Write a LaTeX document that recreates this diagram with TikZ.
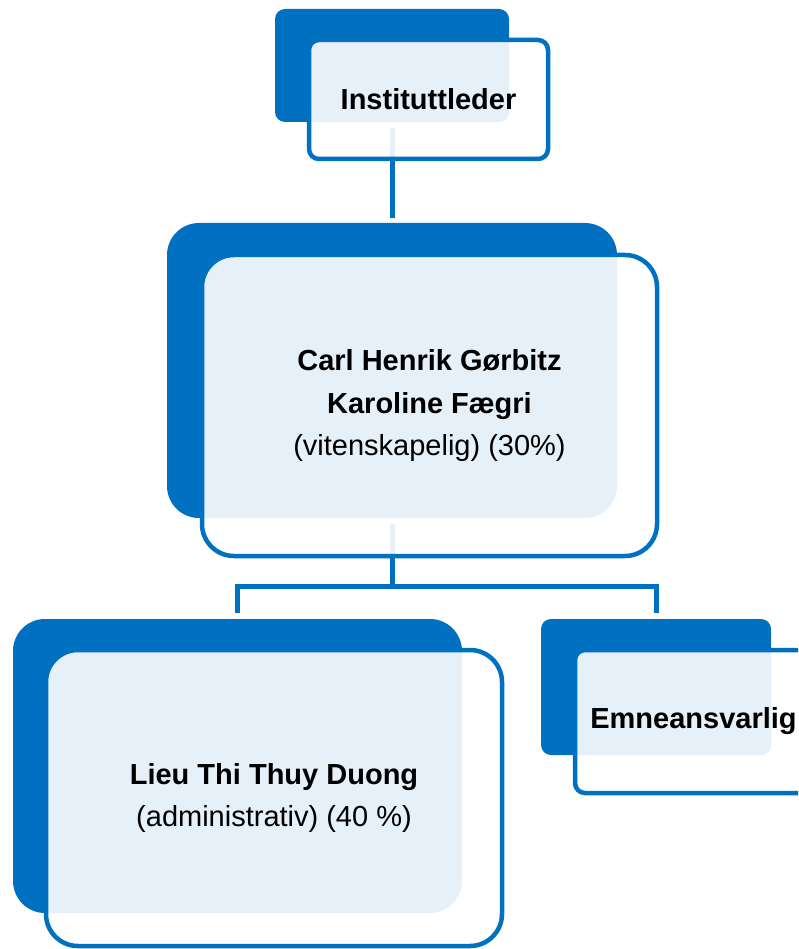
\documentclass[tikz,border=0pt]{standalone}
\usepackage{fontspec}
\setmainfont{Liberation Sans}
\usetikzlibrary{backgrounds}

\begin{document}
\begin{tikzpicture}[x=1pt, y=-1pt,
    backbox/.style={fill=orgblue, inner sep=0pt, outer sep=0pt},
    frontbox/.style={draw=orgblue, line width=4.5pt, fill=white, fill opacity=0.9,
      text opacity=1, inner sep=0pt, outer sep=0pt, align=center,
      font=\fontsize{29}{42.5}\selectfont},
    link/.style={draw=orgblue, line width=5pt}]
			% Define colors
			\definecolor{orgblue}{RGB}{0,112,192}
			
			% Fix the page size
			\useasboundingbox (0,0) rectangle (798,949);
			\clip (0,0) rectangle (798,949);
			
			% Draw the top unit
			\node[backbox, minimum width=234pt, minimum height=113pt, rounded corners=10pt] (lederBack) at (392,65.5) {};
			\node[frontbox, minimum width=239pt, minimum height=119pt, rounded corners=10pt] (lederFront) at (428.5,99.5) {\textbf{Instituttleder}};
			
			% Draw the middle unit
			\node[backbox, minimum width=450pt, minimum height=295pt, rounded corners=32pt] (nestBack) at (392,370.5) {};
			\node[frontbox, minimum width=455pt, minimum height=301pt, rounded corners=32pt] (nestFront) at (429.5,405.5)
			  {\textbf{Carl Henrik Gørbitz}\\\textbf{Karoline Fægri}\\(vitenskapelig) (30\%)};
			
			% Draw the bottom left unit
			\node[backbox, minimum width=449pt, minimum height=294pt, rounded corners=32pt] (adminBack) at (237.5,766) {};
			\node[frontbox, minimum width=456pt, minimum height=296pt, rounded corners=32pt] (adminFront) at (274,798)
			  {\textbf{Lieu Thi Thuy Duong}\\(administrativ) (40 \%)};
			
			% Draw the bottom right unit
			\node[backbox, minimum width=230pt, minimum height=136pt, rounded corners=10pt] (emneBack) at (656,687) {};
			\node[frontbox, minimum width=237pt, minimum height=143pt, rounded corners=10pt] (emneFront) at (693.5,721.5) {\textbf{Emneansvarlig}};
			
			% Draw the connectors behind the units
			\begin{pgfonlayer}{background}
			\draw[link] ([yshift=-6pt]lederBack.south) -- ([yshift=5pt]nestBack.north);
			\draw[link] ([yshift=-6pt]nestBack.south) -- ([yshift=-68pt]nestBack.south);
			\draw[link] ([yshift=6pt]adminBack.north) |- ([yshift=-68pt]nestBack.south) -| ([yshift=6pt]emneBack.north);
			\end{pgfonlayer}
		\end{tikzpicture}
\end{document}
